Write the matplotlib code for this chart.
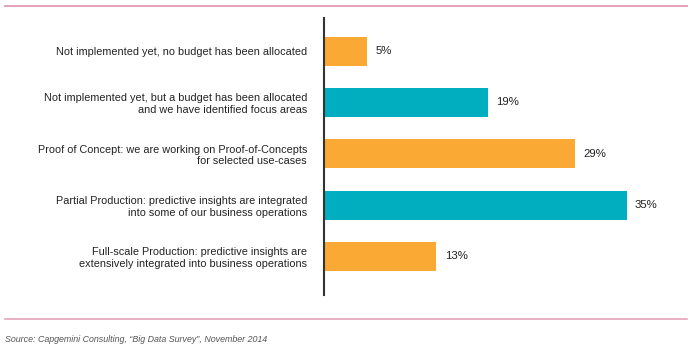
import matplotlib
matplotlib.use("Agg")
import matplotlib.pyplot as plt
from matplotlib.lines import Line2D

categories = [
    "Not implemented yet, no budget has been allocated",
    "Not implemented yet, but a budget has been allocated\nand we have identified focus areas",
    "Proof of Concept: we are working on Proof-of-Concepts\nfor selected use-cases",
    "Partial Production: predictive insights are integrated\ninto some of our business operations",
    "Full-scale Production: predictive insights are\nextensively integrated into business operations",
]
values = [5, 19, 29, 35, 13]
value_labels = ["5%", "19%", "29%", "35%", "13%"]
source = "Source: Capgemini Consulting, \u201cBig Data Survey\u201d, November 2014"

orange = "#FBA935"
teal = "#00AEC0"
colors = [orange, teal, orange, teal, orange]

plt.rcParams['font.family'] = ['Liberation Sans', 'DejaVu Sans']

W, H = 692, 349
fig = plt.figure(figsize=(W / 100, H / 100), dpi=100)

left, right, top, bottom = 324, 687, 18, 295
ax = fig.add_axes([left / W, 1 - bottom / H, (right - left) / W, (bottom - top) / H])

pos = list(range(len(values)))
ax.barh(pos, values, height=0.566, color=colors, left=0)
ax.set_xlim(0, (right - left) / 8.65)
ax.set_ylim(4 + 0.75, -0.645)

for p, v, lab in zip(pos, values, value_labels):
    ax.text(v + 0.95, p, lab, va='center', ha='left', fontsize=8.2, color='#222222')

ax.set_yticks(pos)
ax.set_yticklabels(categories, fontsize=7.85, color='#222222', linespacing=1.2)
ax.tick_params(axis='y', length=0, pad=12.3)
ax.set_xticks([])
for s in ['top', 'right', 'bottom']:
    ax.spines[s].set_visible(False)
ax.spines['left'].set_color('#333333')
ax.spines['left'].set_linewidth(1.5)

# decorative horizontal rules
fig.add_artist(Line2D([5 / W, 687 / W], [1 - 5.5 / H, 1 - 5.5 / H], color='#E29BB0', lw=1.3))
fig.add_artist(Line2D([5 / W, 687 / W], [1 - 319 / H, 1 - 319 / H], color='#E29BB0', lw=1.1))

fig.text(5 / W, 1 - 339 / H, source, fontsize=6.4, style='italic', color='#555555', va='center', ha='left')

fig.savefig("out.png", dpi=100)
